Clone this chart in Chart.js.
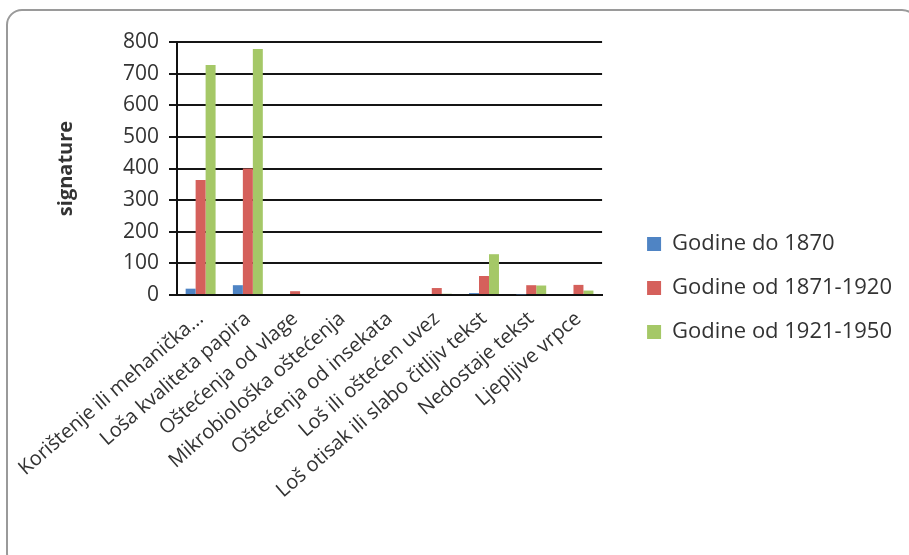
<!DOCTYPE html>
<html>
<head>
<meta charset="utf-8">
<script src="https://cdn.jsdelivr.net/npm/chart.js@4"></script>
<style>
  html, body { margin: 0; padding: 0; background: #fff; overflow: hidden; }
  #wrap { position: relative; width: 909px; height: 555px; }
  #frame { position: absolute; left: 6px; top: 9px; width: 912px; height: 560px;
           border: 2px solid #9a9a9a; border-radius: 16px; box-sizing: border-box; }
  #chart { position: absolute; left: 0; top: 0; }
</style>
</head>
<body>
<div id="wrap">
  <div id="frame"></div>
  <canvas id="chart" width="909" height="555"></canvas>
</div>
<script>
// kategorije oštećenja
const categories = ['Korištenje ili mehanička...', 'Loša kvaliteta papira', 'Oštećenja od vlage',
  'Mikrobiološka oštećenja', 'Oštećenja od insekata', 'Loš ili oštećen uvez',
  'Loš otisak ili slabo čitljiv tekst', 'Nedostaje tekst', 'Ljepljive vrpce'];

const seriesNames = ['Godine do 1870', 'Godine od 1871-1920', 'Godine od 1921-1950'];
const do1870 = [20, 31, 0, 0, 0, 0, 6, 2, 0];
const od1871 = [364, 400, 12, 0, 0, 22, 60, 31, 32];
const od1921 = [727, 778, 0, 0, 0, 4, 129, 30, 14];

const yMin = 0, yMax = 800, yStep = 100;

const colors = ['#4f84c4', '#d5605b', '#a5c867'];
const txt = '#333333';

let ctx = document.getElementById('chart').getContext('2d');

let chart = new Chart(ctx, {
  type: 'bar',
  data: {
    labels: categories,
    datasets: [do1870, od1871, od1921].map(function(d, i) {
      return { label: seriesNames[i], data: d, backgroundColor: colors[i], borderWidth: 0 };
    })
  },
  options: {
    responsive: false,
    animation: false,
    categoryPercentage: 0.634,
    barPercentage: 1,
    layout: { padding: { left: 53, top: 42, right: 7, bottom: 21 } },
    plugins: {
      tooltip: { enabled: false },
      legend: {
        position: 'right',
        maxWidth: 400,
        labels: {
          boxWidth: 14, boxHeight: 14, padding: 22, color: txt,
          font: { family: 'Open Sans', size: 22 }
        }
      }
    },
    scales: {
      x: {
        grid: { display: false },
        border: { display: true, color: '#111', width: 2 },
        ticks: {
          color: txt, autoSkip: false, minRotation: 41, maxRotation: 41, padding: 4,
          font: { family: 'Open Sans', size: 20 }
        },
        afterFit: function(s) { s.height = 239; s.paddingLeft = 0; s.paddingRight = 0; }
      },
      y: {
        min: yMin, max: yMax,
        ticks: { stepSize: yStep, color: txt, padding: 10, font: { family: 'Open Sans', size: 21 } },
        grid: { color: '#151515', lineWidth: 2, tickLength: 8, tickColor: '#151515' },
        border: { display: true, color: '#111', width: 2 },
        title: { display: true, text: 'signature', color: txt, padding: 1,
                 font: { family: 'Open Sans', size: 20, weight: 'bold' } },
        afterFit: function(s) { s.width = 124; }
      },
      y2: {
        position: 'right', display: true,
        ticks: { display: false }, grid: { display: false }, border: { display: false },
        afterFit: function(s) { s.width = 23; }
      }
    }
  }
});
</script>
</body>
</html>
